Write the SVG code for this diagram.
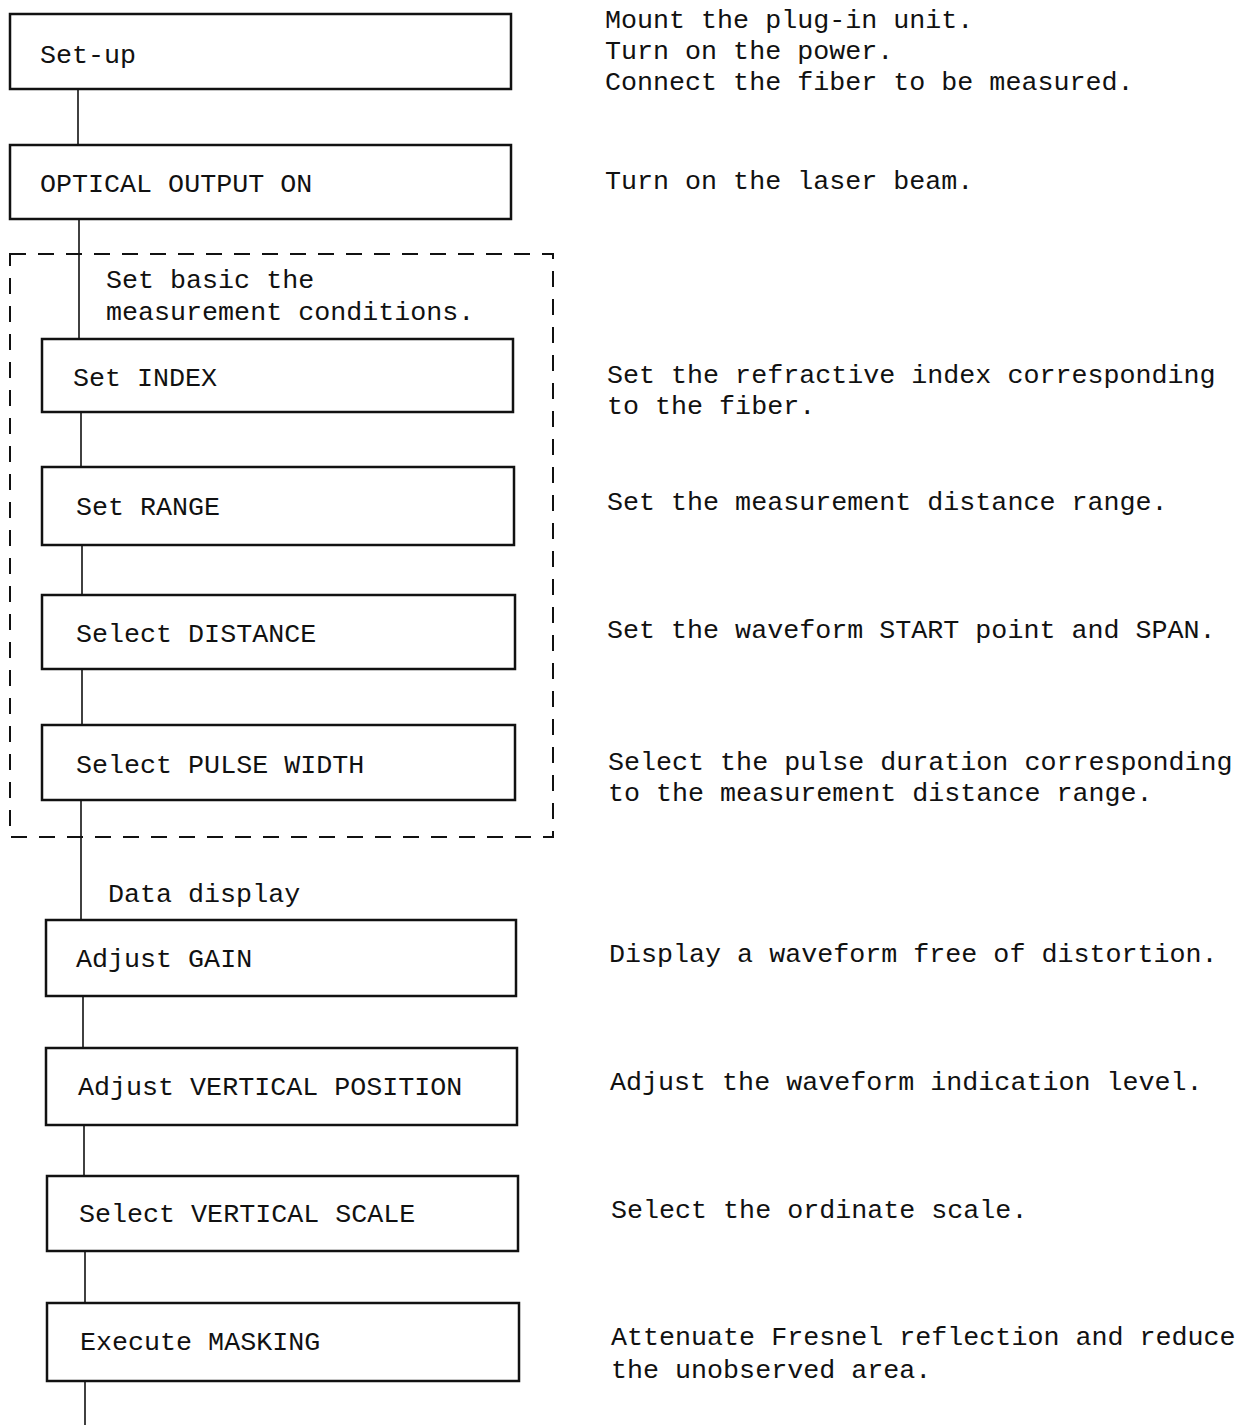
<svg xmlns="http://www.w3.org/2000/svg" width="1239" height="1425" viewBox="0 0 1239 1425">
<style>
text{font-family:"Liberation Mono","DejaVu Sans Mono",monospace;font-size:26.7px;fill:#111}
.box{fill:#fff;stroke:#111;stroke-width:2.5}
.c{stroke:#111;stroke-width:1.6;fill:none}
.dash{fill:none;stroke:#111;stroke-width:2;stroke-dasharray:16 12}
</style>
<rect width="1239" height="1425" fill="#fff"/>
<g id="connectors">
<line class="c" x1="78" y1="89" x2="78" y2="145"/>
<line class="c" x1="79" y1="219" x2="79" y2="339"/>
<line class="c" x1="81" y1="412" x2="81" y2="467"/>
<line class="c" x1="82" y1="545" x2="82" y2="595"/>
<line class="c" x1="82" y1="669" x2="82" y2="725"/>
<line class="c" x1="81" y1="800" x2="81" y2="920"/>
<line class="c" x1="83" y1="996" x2="83" y2="1048"/>
<line class="c" x1="84" y1="1125" x2="84" y2="1176"/>
<line class="c" x1="85" y1="1251" x2="85" y2="1303"/>
<line class="c" x1="85" y1="1381" x2="85" y2="1425"/>
</g>
<g id="group-basic">
<rect class="dash" x="10" y="254" width="543" height="583"/>
<text x="106" y="288">Set basic the</text>
<text x="106" y="320">measurement conditions.</text>
</g>
<g id="label-data-display"><text x="108" y="902">Data display</text></g>
<g id="n-setup"><rect class="box" x="10" y="14" width="501" height="75"/><text x="40" y="63">Set-up</text></g>
<g id="n-optical"><rect class="box" x="10" y="145" width="501" height="74"/><text x="40" y="192">OPTICAL OUTPUT ON</text></g>
<g id="n-index"><rect class="box" x="42" y="339" width="471" height="73"/><text x="73" y="386">Set INDEX</text></g>
<g id="n-range"><rect class="box" x="42" y="467" width="472" height="78"/><text x="76" y="515">Set RANGE</text></g>
<g id="n-distance"><rect class="box" x="42" y="595" width="473" height="74"/><text x="76" y="642">Select DISTANCE</text></g>
<g id="n-pulse"><rect class="box" x="42" y="725" width="473" height="75"/><text x="76" y="773">Select PULSE WIDTH</text></g>
<g id="n-gain"><rect class="box" x="46" y="920" width="470" height="76"/><text x="76" y="967">Adjust GAIN</text></g>
<g id="n-vpos"><rect class="box" x="46" y="1048" width="471" height="77"/><text x="78" y="1095">Adjust VERTICAL POSITION</text></g>
<g id="n-vscale"><rect class="box" x="47" y="1176" width="471" height="75"/><text x="79" y="1222">Select VERTICAL SCALE</text></g>
<g id="n-mask"><rect class="box" x="47" y="1303" width="472" height="78"/><text x="80" y="1350">Execute MASKING</text></g>
<g id="notes">
<text x="605" y="28">Mount the plug-in unit.</text>
<text x="605" y="59">Turn on the power.</text>
<text x="605" y="90">Connect the fiber to be measured.</text>
<text x="605" y="189">Turn on the laser beam.</text>
<text x="607" y="383">Set the refractive index corresponding</text>
<text x="607" y="414">to the fiber.</text>
<text x="607" y="510">Set the measurement distance range.</text>
<text x="607" y="638">Set the waveform START point and SPAN.</text>
<text x="608" y="770">Select the pulse duration corresponding</text>
<text x="608" y="801">to the measurement distance range.</text>
<text x="609" y="962">Display a waveform free of distortion.</text>
<text x="610" y="1090">Adjust the waveform indication level.</text>
<text x="611" y="1218">Select the ordinate scale.</text>
<text x="611" y="1345">Attenuate Fresnel reflection and reduce</text>
<text x="611" y="1378">the unobserved area.</text>
</g>
</svg>
